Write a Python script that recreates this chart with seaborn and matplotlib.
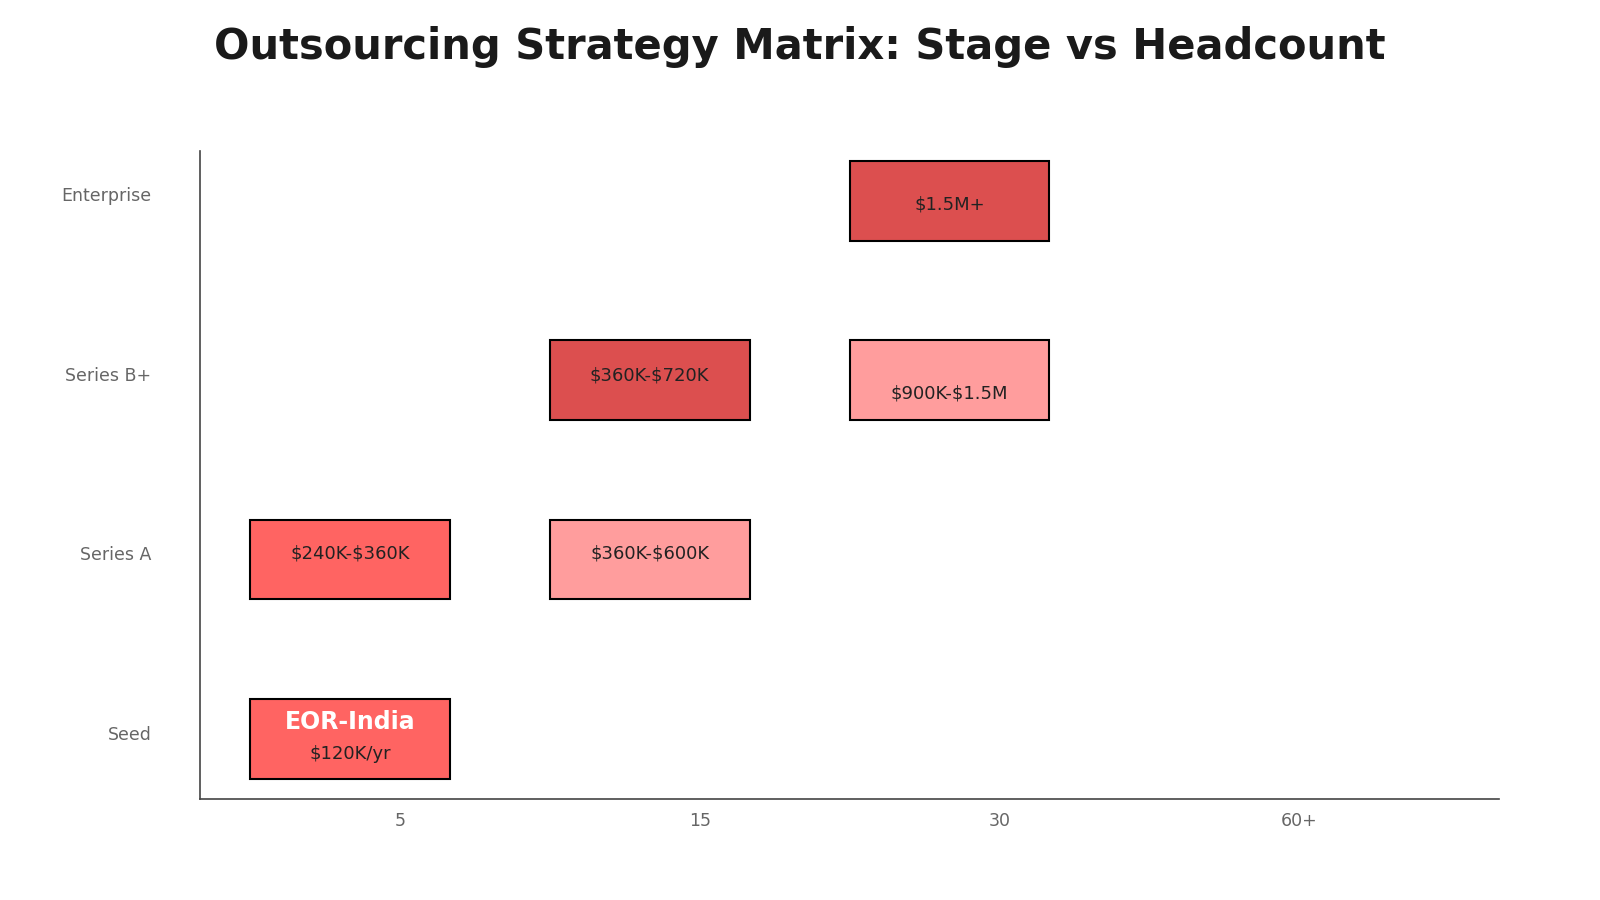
import numpy as np
import pandas as pd
import matplotlib
matplotlib.use('Agg')
import matplotlib.pyplot as plt
import seaborn as sns

# Matrix axes
stages = ['Seed', 'Series A', 'Series B+', 'Enterprise']
headcounts = ['5', '15', '30', '60+']

# Occupied cells
cell_stage = ['Seed', 'Series A', 'Series A', 'Series B+', 'Series B+', 'Enterprise']
cell_headcount = ['5', '5', '15', '15', '30', '30']
cell_cost = ['$120K/yr', '$240K-$360K', '$360K-$600K', '$360K-$720K', '$900K-$1.5M', '$1.5M+']
cell_name = ['EOR-India', '', '', '', '', '']
cell_tier = ['mid', 'mid', 'light', 'dark', 'light', 'dark']

tier_colors = {'light': '#FF9D9D', 'mid': '#FF6462', 'dark': '#DC4F4F'}
# vertical nudge of the cost text (points, positive = up)
cost_nudge = {'$120K/yr': -11, '$240K-$360K': 4, '$360K-$600K': 4,
              '$360K-$720K': 3.5, '$900K-$1.5M': -10, '$1.5M+': -3}

df = pd.DataFrame({'stage': cell_stage, 'headcount': cell_headcount,
                   'cost': cell_cost, 'name': cell_name, 'tier': cell_tier})
df['x'] = df['headcount'].map({h: i for i, h in enumerate(headcounts)})
df['y'] = df['stage'].map({s: i for i, s in enumerate(stages)})

sns.set_style('white')
plt.rcParams['font.family'] = ['DejaVu Sans']

fig = plt.figure(figsize=(16, 9), dpi=100)
ax = fig.add_axes([0.125, 0.1122, 0.812, 0.7198])

box_w, box_h = 2 / 3, 0.445
ax.bar(df['x'] - 1 / 6, box_h, width=box_w, bottom=df['y'] - 0.258,
       color=[tier_colors[t] for t in df['tier']], edgecolor='black', linewidth=1.5,
       align='center', zorder=2)

for _, r in df.iterrows():
    cy = r['y'] - 0.258 + box_h / 2
    cx = r['x'] - 1 / 6
    if r['name']:
        ax.annotate(r['name'], (cx, cy), xytext=(0, 12), textcoords='offset points',
                    ha='center', va='center', fontsize=17, fontweight='bold',
                    color='white', zorder=3, parse_math=False)
    ax.annotate(r['cost'], (cx, cy), xytext=(0, cost_nudge[r['cost']]),
                textcoords='offset points', ha='center', va='center',
                fontsize=13, color='#222222', zorder=3, parse_math=False)

ax.set_xlim(-2 / 3, 3 + 2 / 3)
ax.set_ylim(-0.37, 3.24)
ax.set_xticks(range(len(headcounts)))
ax.set_xticklabels(headcounts)
ax.set_yticks(range(len(stages)))
ax.set_yticklabels(stages)
ax.tick_params(axis='both', length=0, labelsize=12.5, labelcolor='#666666')
ax.tick_params(axis='y', pad=35)
ax.tick_params(axis='x', pad=9)

sns.despine(ax=ax)
for s in ['left', 'bottom']:
    ax.spines[s].set_color('#444444')
    ax.spines[s].set_linewidth(1.2)

fig.suptitle('Outsourcing Strategy Matrix: Stage vs Headcount', fontsize=30,
             fontweight='bold', color='#1a1a1a', x=0.5, y=0.971)

fig.savefig('out.png', dpi=100)
